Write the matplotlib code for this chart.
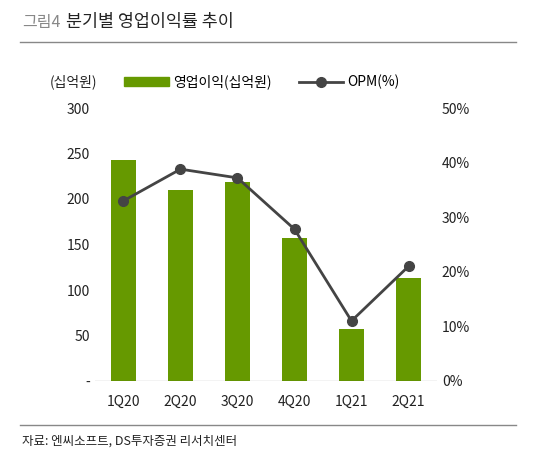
import matplotlib.pyplot as plt
from matplotlib.lines import Line2D
from matplotlib.patches import Patch

plt.rcParams['font.family'] = ['Noto Sans CJK KR', 'DejaVu Sans']

quarters = ['1Q20', '2Q20', '3Q20', '4Q20', '1Q21', '2Q21']
op_profit = [243, 210, 219, 157, 57, 113]
opm = [33.0, 38.8, 37.2, 27.8, 11.0, 21.0]

bar_color = '#669900'
line_color = '#444444'

fig = plt.figure(figsize=(5.36, 4.66), dpi=100)
ax = fig.add_axes([95 / 536, 1 - 381 / 466, 342 / 536, 273 / 466])
x = range(len(quarters))
ax.bar(x, op_profit, width=0.45, color=bar_color, zorder=2)
ax.set_ylim(0, 300)
ax.set_xlim(-0.5, 5.5)
ax.set_yticks(range(0, 301, 50))
ax.set_yticklabels(['-'] + [str(v) for v in range(50, 301, 50)])
ax.set_xticks(list(x))
ax.set_xticklabels(quarters)
for s in ax.spines.values():
    s.set_visible(False)
ax.tick_params(length=0, labelsize=10, colors='#222222')
ax.tick_params(axis='x', pad=10)
ax.axhline(0, color='#333333', lw=0.8)

ax2 = ax.twinx()
ax2.plot(list(x), opm, color=line_color, lw=2, marker='o', ms=7, zorder=3)
ax2.set_ylim(0, 50)
ax2.set_yticks(range(0, 51, 10))
ax2.set_yticklabels([f'{v}%' for v in range(0, 51, 10)])
for s in ax2.spines.values():
    s.set_visible(False)
ax2.tick_params(length=0, labelsize=10, colors='#222222')

fig.text(22 / 536, 1 - 22 / 466, '그림4', fontsize=11.5, color='#888888', va='center')
fig.text(66 / 536, 1 - 22 / 466, '분기별 영업이익률 추이', fontsize=12.5, color='#222222', va='center')
fig.add_artist(Line2D([20 / 536, 516 / 536], [1 - 42 / 466] * 2, color='#888888', lw=1))
fig.add_artist(Line2D([20 / 536, 516 / 536], [1 - 425 / 466] * 2, color='#888888', lw=1))
fig.text(22 / 536, 1 - 441 / 466, '자료: 엔씨소프트, DS투자증권 리서치센터', fontsize=9, color='#222222', va='center')

fig.text(50 / 536, 1 - 82 / 466, '(십억원)', fontsize=10, color='#222222', va='center')
handles = [Patch(color=bar_color, label='영업이익(십억원)'),
           Line2D([0], [0], color=line_color, lw=2, marker='o', ms=7, label='OPM(%)')]
fig.legend(handles=handles, loc='center', bbox_to_anchor=(262 / 536, 1 - 82 / 466),
           ncol=2, frameon=False, fontsize=10, handlelength=3.2, handletextpad=0.3,
           columnspacing=2.0)

fig.savefig('out.png', dpi=100, facecolor='white')
